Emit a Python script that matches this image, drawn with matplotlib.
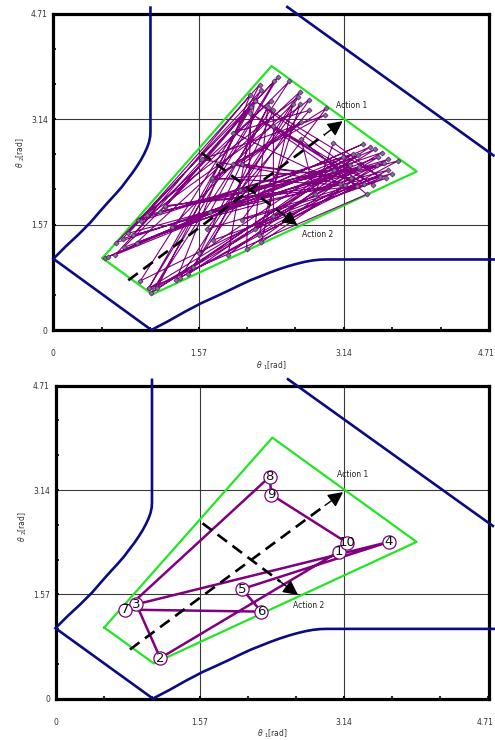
import matplotlib
matplotlib.use("Agg")
import matplotlib.pyplot as plt
import matplotlib.transforms as mtransforms
import numpy as np

plt.rcParams['font.family'] = ['DejaVu Sans']

# Axis ticks (rad)
tick_values = [0, 1.57, 3.14, 4.71]
tick_labels = ["0", "1.57", "3.14", "4.71"]
minor_step = np.pi / 6

# Obstacle boundary in joint space (upper-left branch); the lower branch is its mirror
obst_t1 = [1.05, 1.05, 1.047, 1.035, 1.015, 0.985, 0.95, 0.905, 0.855, 0.80,
           0.74, 0.67, 0.59, 0.50, 0.40, 0.27, 0.13, 0.0]
obst_t2 = [4.80, 2.95, 2.88, 2.80, 2.72, 2.63, 2.54, 2.44, 2.34, 2.24,
           2.13, 2.02, 1.90, 1.76, 1.60, 1.42, 1.24, 1.06]
# Upper-right obstacle edge
edge_t1 = [2.53, 4.76]
edge_t2 = [4.81, 2.60]

# Feasible region (green quadrilateral)
region_t1 = [0.53, 1.07, 3.93, 2.36, 0.53]
region_t2 = [1.07, 0.53, 2.36, 3.93, 1.07]

# Principal action directions
action1_start = (0.81, 0.74)
action1_end = (3.13, 3.11)
action2_start = (1.60, 2.64)
action2_end = (2.64, 1.56)

# Sampled trajectory (upper panel)
traj_t1 = [0.56, 3.35, 0.59, 3.42, 1.06, 2.43, 0.67, 3.48, 1.03, 2.39,
           0.68, 3.55, 1.09, 2.55, 0.76, 3.51, 1.12, 2.23, 0.75, 3.62,
           0.94, 2.25, 0.81, 3.58, 1.33, 2.13, 0.86, 3.73, 1.37, 2.67,
           0.90, 3.30, 1.46, 2.65, 0.91, 3.24, 1.51, 2.77, 0.95, 3.13,
           1.58, 2.35, 1.01, 3.21, 1.89, 2.18, 1.15, 3.31, 2.09, 2.14,
           1.21, 3.50, 2.25, 2.59, 1.28, 3.62, 2.22, 2.67, 1.66, 3.66,
           2.18, 2.32, 1.69, 3.53, 2.38, 2.38, 1.73, 3.60, 2.04, 2.95,
           1.72, 3.04, 2.02, 2.77, 1.94, 3.10, 1.61, 2.94, 1.94, 3.22,
           2.04, 2.68, 1.72, 3.15, 1.21, 3.28, 2.13, 3.36, 2.38, 3.46,
           2.18, 3.53, 3.03, 2.83, 2.68, 3.39, 1.03, 2.14]
traj_t2 = [1.07, 2.77, 1.09, 2.72, 0.55, 3.77, 1.12, 2.69, 0.62, 3.70,
           1.30, 2.64, 0.62, 3.70, 1.23, 2.57, 0.62, 3.65, 1.36, 2.54,
           0.73, 3.57, 1.44, 2.48, 0.75, 3.50, 1.41, 2.52, 0.78, 3.55,
           1.30, 2.60, 0.83, 3.47, 1.64, 2.62, 0.94, 3.43, 1.63, 2.57,
           1.14, 3.41, 1.71, 2.46, 1.12, 3.42, 1.76, 2.43, 1.20, 3.33,
           1.83, 2.46, 1.31, 3.37, 1.53, 2.38, 1.41, 3.37, 1.50, 2.33,
           1.51, 3.32, 1.75, 2.29, 1.69, 3.27, 1.34, 2.26, 1.64, 3.30,
           2.24, 2.38, 2.08, 3.27, 2.94, 2.18, 2.54, 3.20, 2.47, 2.26,
           2.47, 3.10, 2.26, 2.16, 1.85, 2.14, 3.23, 2.18, 3.04, 2.16,
           3.41, 2.28, 2.79, 2.02, 2.84, 2.02, 0.62, 3.32]

# Numbered trajectory (lower panel)
step_ids = ["1", "2", "3", "4", "5", "6", "7", "8", "9", "10"]
step_t1 = [3.08, 1.14, 0.88, 3.63, 2.03, 2.24, 0.76, 2.33, 2.35, 3.17]
step_t2 = [2.21, 0.61, 1.42, 2.36, 1.65, 1.31, 1.34, 3.34, 3.07, 2.35]

W, H = 495, 740
fig = plt.figure(figsize=(W / 100, H / 100), dpi=100)
fig.patch.set_facecolor("white")

NAVY = "#0c0c80"
GREEN = "#22e622"
PURPLE = "#800080"


def make_axes(left, right, top, bottom):
    return fig.add_axes([left / W, 1 - bottom / H, (right - left) / W, (bottom - top) / H])


def setup(ax, ylabel_y):
    ax.set_xlim(0, 4.71)
    ax.set_ylim(0, 4.71)
    ax.set_xticks(tick_values)
    ax.set_xticklabels(tick_labels)
    ax.set_yticks(tick_values)
    ax.set_yticklabels(tick_labels)
    minors = np.arange(0, 4.72, minor_step)
    ax.set_xticks(minors, minor=True)
    ax.set_yticks(minors, minor=True)
    ax.tick_params(which="both", direction="in", length=2.5, width=1.2,
                   labelsize=5.5, labelcolor="#333333")
    ax.tick_params(axis="x", which="major", pad=14)
    ax.tick_params(axis="y", which="major", pad=4)
    # keep the last x label inside the figure edge
    last = ax.xaxis.get_major_ticks()[-1].label1
    last.set_transform(last.get_transform() +
                       mtransforms.ScaledTranslation(-3 / 100, 0, fig.dpi_scale_trans))
    for s in ax.spines.values():
        s.set_linewidth(2.3)
        s.set_color("black")
    for v in (1.57, 3.14):
        ax.axvline(v, color="#3a3a3a", lw=0.8, zorder=1)
        ax.axhline(v, color="#3a3a3a", lw=0.8, zorder=1)
    ax.text(0.5, -0.112, r"$\theta$ $_1$[rad]", transform=ax.transAxes,
            ha="center", va="center", fontsize=5.5, color="#333333")
    ax.text(-0.075, ylabel_y, r"$\theta$ $_2$[rad]", transform=ax.transAxes,
            ha="center", va="center", fontsize=5.5, color="#333333", rotation=90)


def draw_common(ax):
    # obstacle boundaries
    ax.plot(obst_t1, obst_t2, color=NAVY, lw=1.9, clip_on=False, zorder=3,
            solid_joinstyle="round")
    ax.plot([0.0, 1.06], [1.06, 0.0], color=NAVY, lw=1.9, zorder=3)
    ax.plot(obst_t2, obst_t1, color=NAVY, lw=1.9, clip_on=False, zorder=3,
            solid_joinstyle="round")
    ax.plot(edge_t1, edge_t2, color=NAVY, lw=1.9, clip_on=False, zorder=3)
    # feasible region
    ax.plot(region_t1, region_t2, color=GREEN, lw=1.6, zorder=4)


def draw_actions(ax, a1_text, a2_text):
    for (s, e) in ((action1_start, action1_end), (action2_start, action2_end)):
        s = np.array(s)
        e = np.array(e)
        d = e - s
        base = e - d / np.linalg.norm(d) * 0.28
        ax.plot([s[0], base[0]], [s[1], base[1]], color="black", lw=1.9,
                dashes=(4.5, 2.6), zorder=6)
        ax.annotate("", xy=tuple(e), xytext=tuple(base),
                    arrowprops=dict(arrowstyle="-|>,head_length=0.9,head_width=0.45",
                                    color="black", lw=1.0, shrinkA=0, shrinkB=0),
                    zorder=7)
    ax.text(a1_text[0], a1_text[1], "Action 1", fontsize=5.5, color="#222222",
            ha="left", va="center", zorder=8)
    ax.text(a2_text[0], a2_text[1], "Action 2", fontsize=5.5, color="#222222",
            ha="left", va="center", zorder=8)


# Upper panel: full sampled trajectory
ax1 = make_axes(53.4, 489.0, 13.5, 330.0)
setup(ax1, 0.56)
draw_common(ax1)
ax1.plot(traj_t1, traj_t2, color=PURPLE, lw=0.8, zorder=5,
         marker="D", ms=2.6, mfc="#5c8a78", mec=PURPLE, mew=0.5)
draw_actions(ax1, (3.06, 3.35), (2.69, 1.42))

# Lower panel: first ten steps
ax2 = make_axes(55.5, 488.5, 385.7, 698.6)
setup(ax2, 0.55)
draw_common(ax2)
ax2.plot(step_t1, step_t2, color=PURPLE, lw=1.8, zorder=5)
draw_actions(ax2, (3.06, 3.37), (2.58, 1.40))
ax2.plot(step_t1, step_t2, ls="none", marker="o", ms=9.5, mfc="white",
         mec=PURPLE, mew=0.9, zorder=9)
for lab, x, y in zip(step_ids, step_t1, step_t2):
    ax2.text(x, y, lab, fontsize=9.5, ha="center", va="center",
             color="#111111", zorder=10)

fig.savefig("out.png", dpi=100, facecolor="white")
